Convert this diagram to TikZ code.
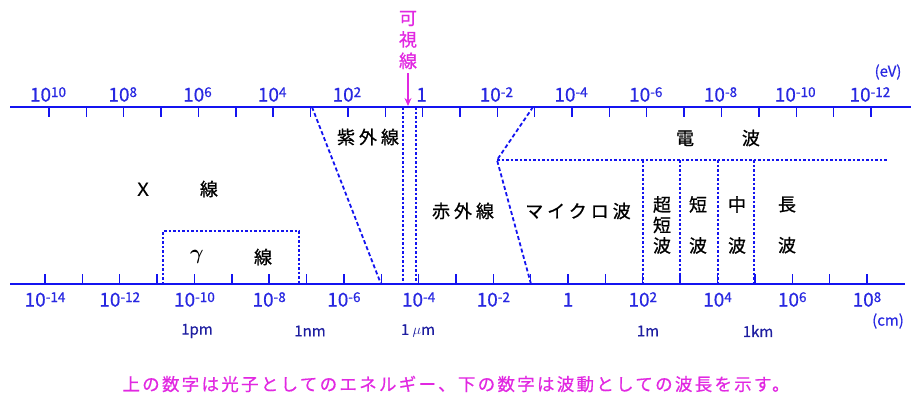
\documentclass[tikz,border=0pt]{standalone}
\usepackage{fontspec}
\usepackage{amsmath}
\setmainfont{Noto Sans CJK JP}
\newfontfamily\jplab[LetterSpace=22,FakeBold=0.8]{Noto Sans CJK JP}
\newfontfamily\jpbold[FakeBold=0.8]{Noto Sans CJK JP}
\newfontfamily\jpcap[LetterSpace=13,FakeBold=0.6]{Noto Sans CJK JP}
\newfontfamily\numfont[FakeBold=0.6]{Noto Sans CJK JP}
\usetikzlibrary{arrows.meta}
\definecolor{axisblue}{RGB}{20,20,240}
\definecolor{numblue}{RGB}{40,40,225}
\definecolor{unitblue}{RGB}{30,30,160}
\definecolor{mag}{RGB}{225,40,225}
\newcommand\tenpow[1]{10\raisebox{4.5pt}{\fontsize{13.5}{13.5}\selectfont #1}}
\begin{document}
\begin{tikzpicture}[x=1pt,y=-1pt,
  axisline/.style={axisblue, line width=2pt},
  tickline/.style={axisblue, line width=1.4pt},
  bnd/.style={axisblue, line width=1.8pt, dash pattern=on 2.5pt off 2pt},
  diag/.style={axisblue, line width=1.8pt, dash pattern=on 4pt off 2.5pt},
  num/.style={numblue, font=\numfont\fontsize{19}{19}\selectfont, inner sep=0pt, anchor=base},
  unitlab/.style={unitblue, font=\numfont\fontsize{15}{15}\selectfont, inner sep=0pt},
  lab/.style={black, font=\jplab\fontsize{18}{18}\selectfont, inner sep=0pt},
  vlab/.style={black, font=\jpbold\fontsize{18}{20.5}\selectfont, inner sep=0pt, align=center},
  vlabw/.style={black, font=\jpbold\fontsize{18}{41}\selectfont, inner sep=0pt, align=center},
]
\useasboundingbox (0,0) rectangle (911,394);

% axes
\coordinate (tl) at (10,107);
\coordinate (tr) at (911,107);
\coordinate (bl) at (10,284);
\coordinate (br) at (905,284);
\draw[axisline] (tl) -- (tr);
\draw[axisline] (bl) -- (br);

% ticks
\foreach \i in {0,...,22}{
  \coordinate (ta\i) at ({49+37.36*\i},107);
  \coordinate (tb\i) at ({49+37.36*\i},117);
  \draw[tickline] (ta\i) -- (tb\i);
  \coordinate (ba\i) at ({45+37.36*\i},284);
  \coordinate (bb\i) at ({45+37.36*\i},274);
  \draw[tickline] (ba\i) -- (bb\i);
}

% top labels (energy)
\foreach \i/\t [count=\k] in {0/{\tenpow{10}},2/{\tenpow{8}},4/{\tenpow{6}},6/{\tenpow{4}},8/{\tenpow{2}},10/{1},12/{\tenpow{-2}},14/{\tenpow{-4}},16/{\tenpow{-6}},18/{\tenpow{-8}},20/{\tenpow{-10}},22/{\tenpow{-12}}}{
  \node[num] (tn\k) at ({49+37.36*\i-1},101.5) {\t};
}
\node[numblue, font=\numfont\fontsize{15}{15}\selectfont, inner sep=0pt] (ev) at (888,72) {(eV)};

% bottom labels (wavelength)
\foreach \i/\t [count=\k] in {0/{\tenpow{-14}},2/{\tenpow{-12}},4/{\tenpow{-10}},6/{\tenpow{-8}},8/{\tenpow{-6}},10/{\tenpow{-4}},12/{\tenpow{-2}},14/{1},16/{\tenpow{2}},18/{\tenpow{4}},20/{\tenpow{6}},22/{\tenpow{8}}}{
  \node[num] (bn\k) at ({45+37.36*\i},306.5) {\t};
}
\node[numblue, font=\numfont\fontsize{15}{15}\selectfont, inner sep=0pt] (cm) at (888,321) {(cm)};

% unit labels
\node[unitlab] (pm) at (197,331) {1pm};
\node[unitlab] (nm) at (310,331) {1nm};
\node[unitlab] (um) at (418,331) {1 $\mu$m};
\node[unitlab] (mm) at (648,331) {1m};
\node[unitlab] (km) at (758,331) {1km};

% visible light
\node[mag, font=\jpbold\fontsize{18}{21.5}\selectfont, inner sep=0pt, align=center] (vis) at (408,40) {可\\視\\線};
\coordinate (visend) at (408,106);
\draw[mag, line width=1.6pt, -{Stealth[length=8pt,width=7pt]}] (vis.south) ++(0,4) -- (visend);

% boundaries
\coordinate (v1t) at (403,107); \coordinate (v1b) at (403,284);
\coordinate (v2t) at (416,107); \coordinate (v2b) at (416,284);
\draw[bnd] (v1t) -- (v1b);
\draw[bnd] (v2t) -- (v2b);
\coordinate (uvt) at (312,107); \coordinate (uvb) at (381,284);
\draw[diag] (uvt) -- (uvb);
\coordinate (irt) at (533,107); \coordinate (irm) at (497,160); \coordinate (irb) at (531,284);
\draw[diag] (irt) -- (irm) -- (irb);
\coordinate (rr) at (888,160);
\draw[bnd] (irm) -- (rr);
\foreach \x [count=\k] in {643,680,718,754}{
  \coordinate (rt\k) at (\x,160); \coordinate (rb\k) at (\x,284);
  \draw[bnd] (rt\k) -- (rb\k);
}
% gamma box
\coordinate (g1) at (163,284); \coordinate (g2) at (163,231);
\coordinate (g3) at (299,231); \coordinate (g4) at (299,284);
\draw[bnd] (g1) -- (g2) -- (g3) -- (g4);

% region labels
\node[lab] (xray) at (176,189) {Ｘ　　線};
\node[black, font=\fontsize{20}{20}\selectfont, inner sep=0pt] (gam) at (197,257) {$\boldsymbol{\gamma}$};
\node[black, font=\jpbold\fontsize{18}{18}\selectfont, inner sep=0pt] (gsen) at (263,257) {線};
\node[lab] (uv) at (368,137) {紫外線};
\node[lab] (ir) at (463,211) {赤外線};
\node[lab] (mw) at (578,211) {マイクロ波};
\node[lab] (radio) at (718,138) {電　　波};
\node[vlab] (vhf) at (662,225) {超\\短\\波};
\node[vlabw] (sw) at (698,225) {短\\波};
\node[vlabw] (mwv) at (737,225) {中\\波};
\node[vlabw] (lw) at (787,225) {長\\波};

% caption
\node[mag, font=\jpcap\fontsize{17.5}{17.5}\selectfont, inner sep=0pt] (cap) at (456,384) {上の数字は光子としてのエネルギー、下の数字は波動としての波長を示す。};
\end{tikzpicture}
\end{document}
